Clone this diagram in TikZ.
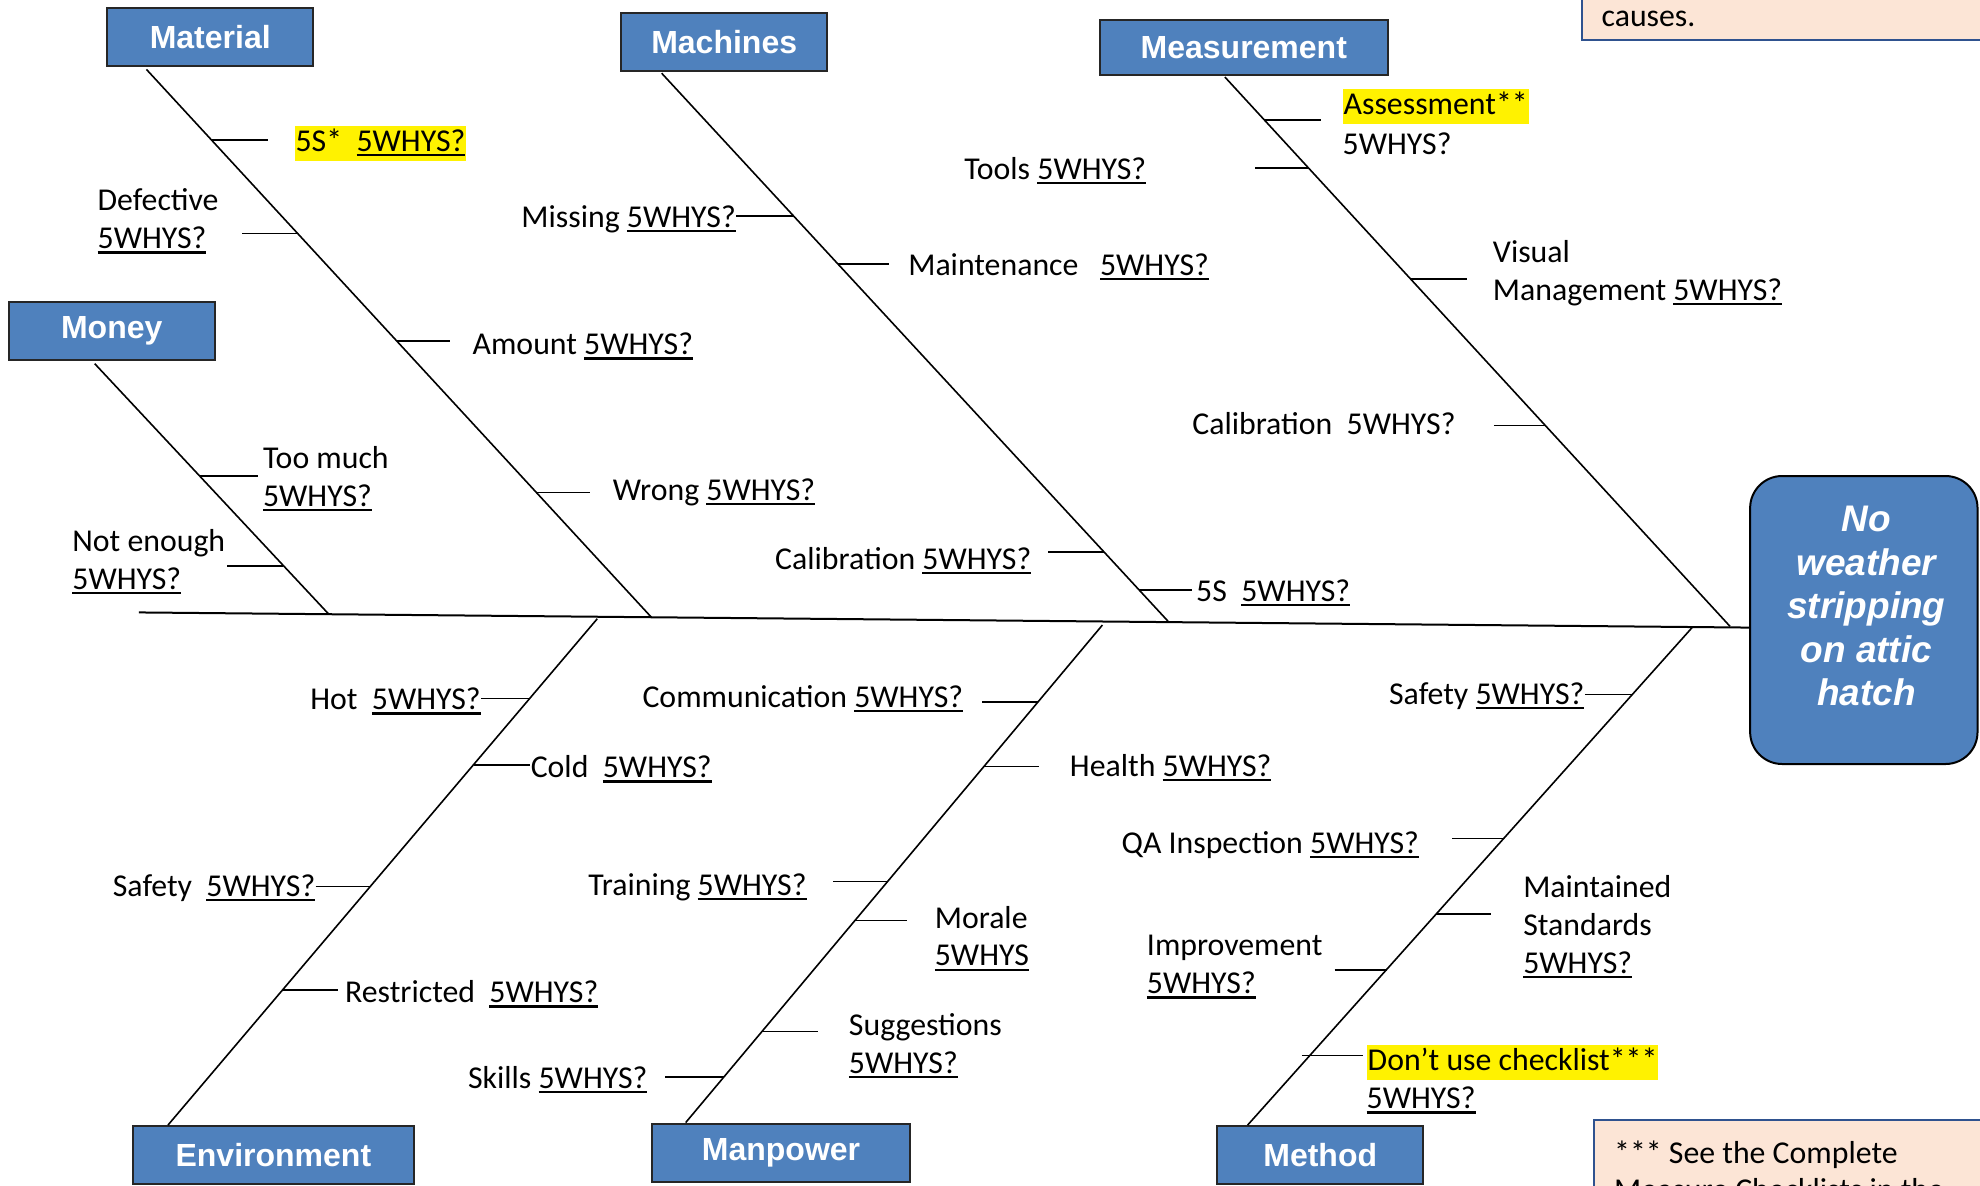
\documentclass[tikz,border=0pt]{standalone}
\usepackage{fontspec}
\setmainfont{Carlito}
\newfontfamily\hdrfont{Liberation Sans}
\usetikzlibrary{calc}
\definecolor{hdrblue}{RGB}{79,129,189}
\definecolor{notefill}{RGB}{252,229,214}
\definecolor{noteedge}{RGB}{47,82,143}
\newcommand\uln[1]{\setbox0\hbox{#1}\rlap{\rule[-2.4pt]{\wd0}{1.15pt}}\box0}
\newcommand\wy{\uln{5WHYS?}}
\newcommand\ml[1]{\begin{tabular}[t]{@{}l@{}}#1\end{tabular}}
\newcommand\lblfont{\fontsize{15.9}{18.9}\selectfont}
\begin{document}
\begin{tikzpicture}[x=0.6314pt, y=-0.6314pt,
  hdr/.style={draw=black!85, line width=1pt, fill=hdrblue, text=white,
    font=\hdrfont\bfseries\fontsize{16}{19}\selectfont, inner sep=0pt,
    minimum width=102.9pt, minimum height=29pt},
  bone/.style={line width=0.8pt},
  tick/.style={line width=0.8pt},
  lbl/.style={inner sep=0pt, font=\lblfont, yshift=-1.3pt},
  hl/.style={lbl, fill=yellow, inner xsep=0.5pt, text height=13pt, text depth=4.5pt},
  note/.style={draw=noteedge, line width=1pt, fill=notefill}]
\useasboundingbox (0,0) rectangle (1568,939);
\clip (0,0) rectangle (1568,939);

% notes
\draw[note] (1253,-60) rectangle (1640,32);
\node[lbl, anchor=base west] (noteA) at (1268,19) {causes.};
\draw[note] (1262,887) rectangle (1640,1000);
\node[lbl, anchor=base west] (noteB) at (1278,919) {\ml{*** See the Complete\\Measure Checklists in the}};

% category boxes
\node[hdr] (material) at (166.5,29) {Material};
\node[hdr] (machines) at (573.5,33) {Machines};
\node[hdr, minimum width=144pt, minimum height=27.8pt] (measurement) at (985,37.5) {Measurement};
\node[hdr] (money) at (88.5,262) {Money};
\node[hdr, minimum width=140.8pt] (environment) at (216.5,915) {Environment};
\node[hdr, minimum width=129.4pt] (manpower) at (618.5,913) {Manpower};
\node[hdr] (method) at (1045.5,915) {Method};

% effect
\node[draw=black, line width=1pt, fill=hdrblue, rounded corners=16pt,
  minimum width=113.7pt, minimum height=144pt] (effect) at (1476,491) {};
\node[text=white, font=\hdrfont\bfseries\itshape\fontsize{18.5}{21.7}\selectfont,
  align=center, inner sep=0pt] (effectText) at (1478,480) {No\\weather\\stripping\\on attic\\hatch};

% spine
\coordinate (tail) at (110,485);
\coordinate (head) at (1386,497);
\draw[line width=1pt] (tail) -- (head);

% bones
\coordinate (matA) at (116,55);  \coordinate (matB) at (516,489);
\coordinate (monA) at (75,288);  \coordinate (monB) at (260,486);
\coordinate (macA) at (524,58);  \coordinate (macB) at (925,492);
\coordinate (meaA) at (970,61);  \coordinate (meaB) at (1370,496);
\coordinate (envA) at (473,490); \coordinate (envB) at (133,891);
\coordinate (manA) at (873,495); \coordinate (manB) at (543,889);
\coordinate (metA) at (1340,497); \coordinate (metB) at (988,891);
\draw[bone] (matA) -- (matB);
\draw[bone] (monA) -- (monB);
\draw[bone] (macA) -- (macB);
\draw[bone] (meaA) -- (meaB);
\draw[bone] (envA) -- (envB);
\draw[bone] (manA) -- (manB);
\draw[bone] (metA) -- (metB);

% Material
\draw[tick] (168,111) -- (212,111);
\node[hl, anchor=base west] (mat1) at (233,118) {5S*~~\wy};
\draw[tick] (192,185) -- (236,185);
\node[lbl, anchor=base west] (mat2) at (77,165) {\ml{Defective\\\wy}};
\draw[tick] (314,270) -- (356,270);
\node[lbl, anchor=base west] (mat3) at (374,279) {Amount \wy};
\draw[tick] (425,390) -- (467,390);
\node[lbl, anchor=base west] (mat4) at (485,394) {Wrong \wy};

% Money
\draw[tick] (158,377) -- (204,377);
\node[lbl, anchor=base west] (mon1) at (208,369) {\ml{Too much\\\wy}};
\draw[tick] (180,448) -- (224,448);
\node[lbl, anchor=base west] (mon2) at (57,435) {\ml{Not enough\\\wy}};

% Machines
\draw[tick] (583,171) -- (628,171);
\node[lbl, anchor=base east] (mac1) at (583,178) {Missing \wy};
\draw[tick] (664,209) -- (704,209);
\node[lbl, anchor=base west] (mac2) at (719,216) {Maintenance~~~\wy};
\draw[tick] (830,437) -- (874,437);
\node[lbl, anchor=base east] (mac3) at (817,449) {Calibration \wy};
\draw[tick] (902,467) -- (944,467);
\node[lbl, anchor=base west] (mac4) at (947,474) {5S~~\wy};

% Measurement
\draw[tick] (1001,95) -- (1046,95);
\node[hl, anchor=base west] (mea1) at (1063,89) {Assessment**};
\node[lbl, anchor=base west] (mea1b) at (1063,120) {5WHYS?};
\draw[tick] (994,133) -- (1036,133);
\node[lbl, anchor=base east] (mea2) at (908,140) {Tools \wy};
\draw[tick] (1117,221) -- (1162,221);
\node[lbl, anchor=base west] (mea3) at (1182,206) {\ml{Visual\\Management \wy}};
\draw[tick] (1183,337) -- (1224,337);
\node[lbl, anchor=base east] (mea4) at (1153,342) {Calibration~~5WHYS?};

% Environment
\draw[tick] (381,553) -- (420,553);
\node[lbl, anchor=base east] (env1) at (381,560) {Hot~~\wy};
\draw[tick] (375,606) -- (420,606);
\node[lbl, anchor=base west] (env2) at (420,614) {Cold~~\wy};
\draw[tick] (250,702) -- (293,702);
\node[lbl, anchor=base east] (env3) at (250,708) {Safety~~\wy};
\draw[tick] (224,784) -- (268,784);
\node[lbl, anchor=base west] (env4) at (273,792) {Restricted~~\wy};

% Manpower
\draw[tick] (778,556) -- (822,556);
\node[lbl, anchor=base east] (man1) at (763,558) {Communication \wy};
\draw[tick] (779,607) -- (823,607);
\node[lbl, anchor=base west] (man2) at (847,613) {Health \wy};
\draw[tick] (660,698) -- (703,698);
\node[lbl, anchor=base east] (man3) at (639,707) {Training \wy};
\draw[tick] (677,729) -- (718,729);
\node[lbl, anchor=base west] (man4) at (740,733) {\ml{Morale\\\uln{5WHYS}}};
\draw[tick] (603,817) -- (648,817);
\node[lbl, anchor=base west] (man5) at (672,818) {\ml{Suggestions\\\wy}};
\draw[tick] (527,853) -- (573,853);
\node[lbl, anchor=base east] (man6) at (513,860) {Skills \wy};

% Method
\draw[tick] (1255,550) -- (1293,550);
\node[lbl, anchor=base east] (met1) at (1255,556) {Safety \wy};
\draw[tick] (1150,664) -- (1191,664);
\node[lbl, anchor=base east] (met2) at (1124,674) {QA Inspection \wy};
\draw[tick] (1137,724) -- (1181,724);
\node[lbl, anchor=base west] (met3) at (1206,709) {\ml{Maintained\\Standards\\\wy}};
\draw[tick] (1057,768) -- (1098,768);
\node[lbl, anchor=base west] (met4) at (908,755) {\ml{Improvement\\\wy}};
\draw[tick] (1031,836) -- (1079,836);
\node[hl, anchor=base west] (met5) at (1082,846) {Don’t use checklist***};
\node[lbl, anchor=base west] (met5b) at (1082,876) {\wy};
\end{tikzpicture}
\end{document}
